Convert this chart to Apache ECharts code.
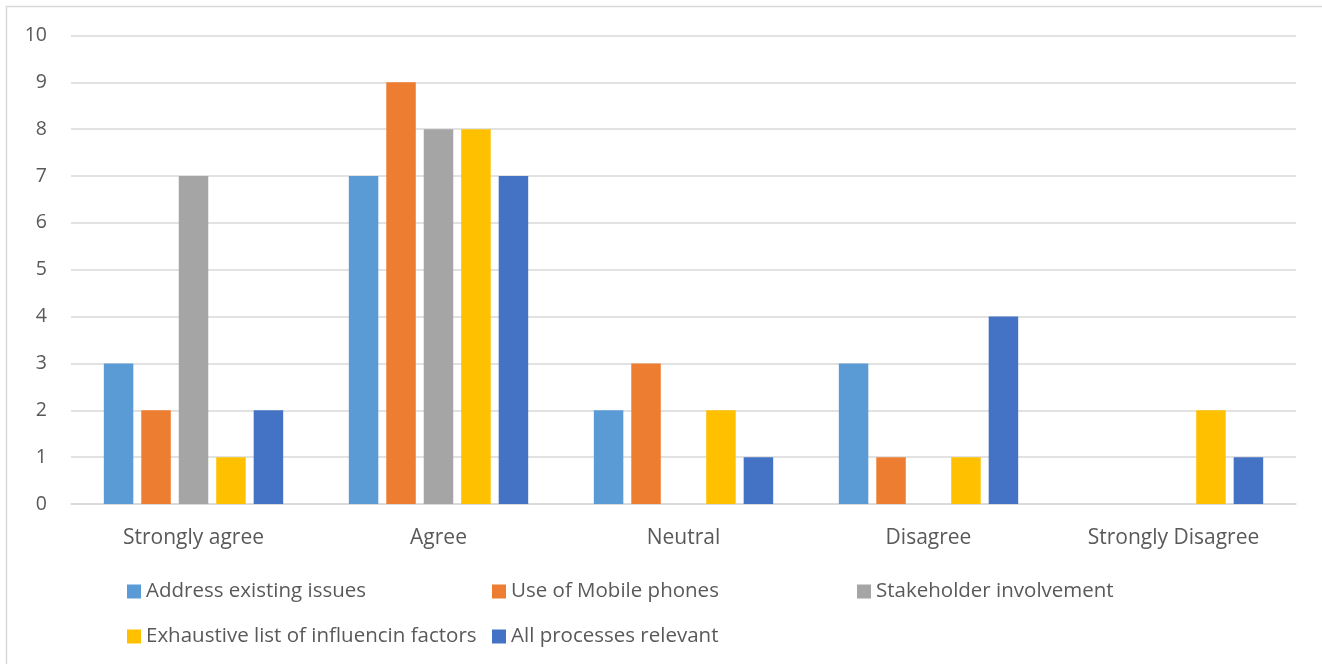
<!DOCTYPE html>
<html>
<head>
<meta charset="utf-8">
<script src="https://cdn.jsdelivr.net/npm/echarts@6/dist/echarts.min.js"></script>
<style>
  html, body { margin: 0; padding: 0; background: #ffffff; }
  #chart { width: 1322px; height: 664px; }
</style>
</head>
<body>
<div id="chart"></div>
<script>
// Survey responses per statement, grouped by agreement level
const categories = ['Strongly agree', 'Agree', 'Neutral', 'Disagree', 'Strongly Disagree'];
const seriesNames = [
  'Address existing issues',
  'Use of Mobile phones',
  'Stakeholder involvement',
  'Exhaustive list of influencin factors',
  'All processes relevant'
];
const addressExistingIssues = [3, 7, 2, 3, 0];
const useOfMobilePhones = [2, 9, 3, 1, 0];
const stakeholderInvolvement = [7, 8, 0, 0, 0];
const exhaustiveFactors = [1, 8, 2, 1, 2];
const allProcessesRelevant = [2, 7, 1, 4, 1];
const seriesValues = [addressExistingIssues, useOfMobilePhones, stakeholderInvolvement, exhaustiveFactors, allProcessesRelevant];
const colors = ['#5B9BD5', '#ED7D31', '#A5A5A5', '#FFC000', '#4472C4'];

const FONT = 'Open Sans';
const TEXT = '#595959';

// Legend laid out as a fixed two-row grid
const legendSlots = [
  { left: 127, top: 581 },
  { left: 492, top: 581 },
  { left: 857, top: 581 },
  { left: 127, top: 626 },
  { left: 492, top: 626 }
];

const chart = echarts.init(document.getElementById('chart'), null, { renderer: 'canvas' });

chart.setOption({
  animation: false,
  backgroundColor: '#ffffff',
  color: colors,
  graphic: [{
    type: 'rect',
    shape: { x: 6.5, y: 6.5, width: 1400, height: 800 },
    style: { fill: 'none', stroke: '#d9d9d9', lineWidth: 1.5 },
    silent: true
  }],
  grid: { left: 71, right: 26, top: 35.5, bottom: 160, containLabel: false },
  legend: seriesNames.map((name, i) => ({
    data: [name],
    left: legendSlots[i].left,
    top: legendSlots[i].top,
    padding: 0,
    icon: 'rect',
    itemWidth: 14,
    itemHeight: 14,
    selectedMode: false,
    textStyle: { fontFamily: FONT, fontSize: 20.5, color: TEXT }
  })),
  xAxis: {
    type: 'category',
    data: categories,
    axisLine: { show: true, lineStyle: { color: '#d9d9d9', width: 1.5 } },
    axisTick: { show: false },
    axisLabel: { fontFamily: FONT, fontSize: 21, color: TEXT, margin: 24, interval: 0 }
  },
  yAxis: {
    type: 'value',
    min: 0,
    max: 10,
    interval: 1,
    axisLine: { show: false },
    axisTick: { show: false },
    splitLine: { lineStyle: { color: '#d9d9d9', width: 1.5 } },
    axisLabel: { fontFamily: FONT, fontSize: 19.5, color: TEXT, margin: 24 }
  },
  series: seriesNames.map((name, i) => ({
    name: name,
    type: 'bar',
    data: seriesValues[i],
    barWidth: 29.5,
    barGap: '27%',
    itemStyle: { color: colors[i] }
  }))
});
</script>
</body>
</html>
